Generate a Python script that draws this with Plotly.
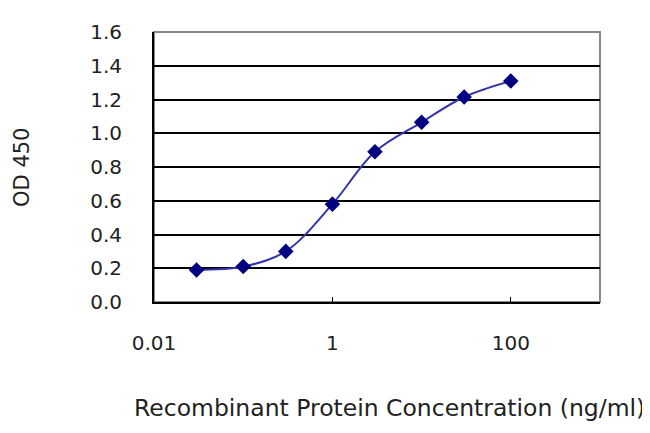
import plotly.graph_objects as go

# Data
concentration = [0.03, 0.1, 0.3, 1, 3, 10, 30, 100]
od_450 = [0.19, 0.21, 0.30, 0.58, 0.89, 1.065, 1.215, 1.31]

x_ticks = [0.01, 1, 100]
x_tick_labels = ['0.01', '1', '100']
y_ticks = [0.0, 0.2, 0.4, 0.6, 0.8, 1.0, 1.2, 1.4, 1.6]

font_family = 'DejaVu Sans, Arial, sans-serif'
text_color = '#222'

fig = go.Figure()

fig.add_trace(go.Scatter(
    x=concentration,
    y=od_450,
    mode='lines+markers',
    line=dict(color='#3434ac', width=2, shape='spline'),
    marker=dict(symbol='diamond', size=12, color='#000080'),
    showlegend=False,
))

fig.update_xaxes(
    type='log',
    range=[-2, 3],
    tickvals=x_ticks,
    ticktext=x_tick_labels,
    ticks='inside',
    ticklen=5,
    tickcolor='black',
    showline=True,
    linecolor='black',
    linewidth=2,
    showgrid=False,
    zeroline=False,
    ticklabelstandoff=22,
    tickfont=dict(size=20, color=text_color),
)

fig.update_yaxes(
    range=[0, 1.6],
    tickvals=y_ticks,
    tickformat='.1f',
    ticks='',
    showline=True,
    linecolor='black',
    linewidth=2,
    showgrid=True,
    gridcolor='black',
    gridwidth=2,
    zeroline=False,
    ticklabelstandoff=26,
    tickfont=dict(size=20, color=text_color),
)

# gray frame on top and right like the original
fig.add_shape(type='rect', xref='paper', yref='paper', x0=0, x1=1, y0=0, y1=1,
              line=dict(color='#888', width=2), layer='below')

fig.add_annotation(text='OD 450', xref='paper', yref='paper', x=-0.296, y=0.5,
                   xanchor='center', yanchor='middle',
                   textangle=-90, showarrow=False,
                   font=dict(size=21, color=text_color, family=font_family))
fig.add_annotation(text='Recombinant Protein Concentration (ng/ml)', xref='paper', yref='paper',
                   x=0.529, y=-0.393, xanchor='center', yanchor='middle', showarrow=False,
                   font=dict(size=23.5, color=text_color, family=font_family))

# margins are offset by the 8px page margin of the html body
fig.update_layout(
    width=650, height=433,
    margin=dict(l=146, r=58, t=19, b=139),
    paper_bgcolor='white',
    plot_bgcolor='white',
    font=dict(family=font_family),
)

fig.write_html("out.html")
